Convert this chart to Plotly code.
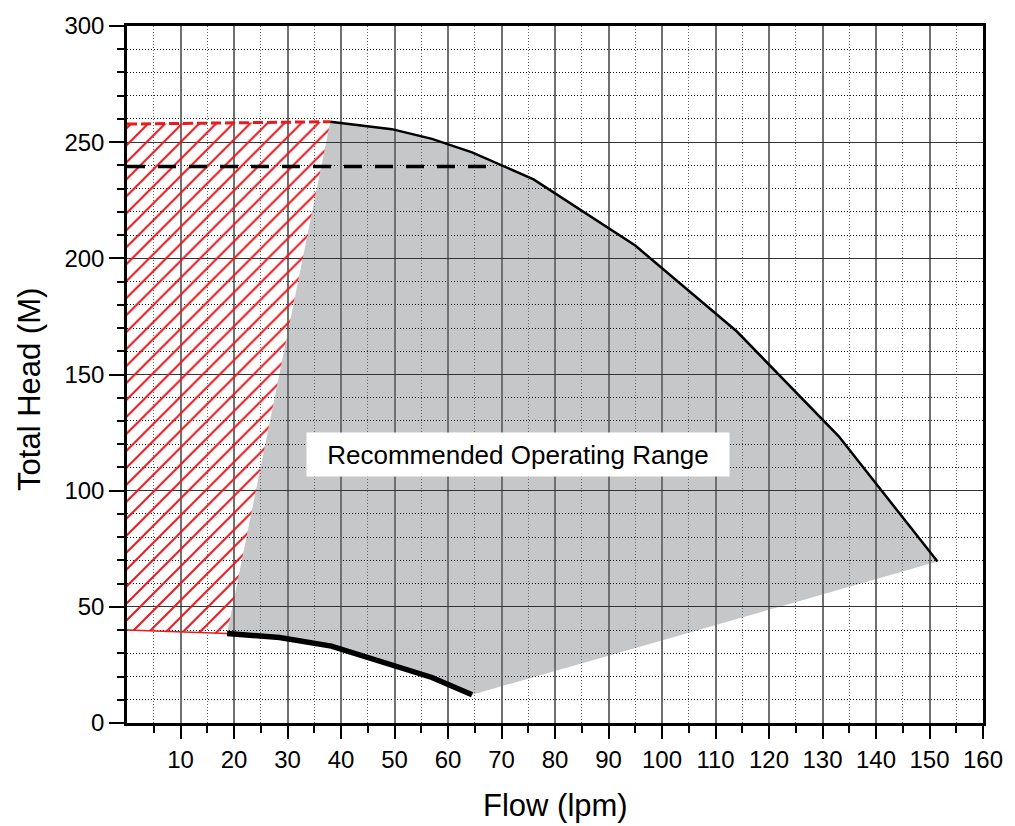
import plotly.graph_objects as go

# ---- data ----
pump_x = [38, 49.5, 57, 64.5, 76, 95, 114, 133, 151.5]
pump_y = [258.8, 255.6, 251.4, 245.6, 234, 205.5, 168.5, 123.5, 69.5]

low_x = [18.7, 28.5, 38.2, 57, 64.5]
low_y = [38.5, 36.8, 33.1, 19.6, 12.2]

hatch_x = [0, 0, 38, 18.7, 0]
hatch_y = [40, 257.8, 258.8, 38.5, 40]

hatch_top_x = [0, 38]
hatch_top_y = [257.8, 258.8]
hatch_bot_x = [0, 18.7]
hatch_bot_y = [40, 38.5]

dash_x = [0, 67.5]
dash_y = [239.5, 239.5]

label_text = "Recommended Operating Range"
label_pos = (73.0, 115.7)

x_major = list(range(10, 161, 10))
x_minor = list(range(5, 160, 10))
y_major = list(range(0, 301, 50))
y_minor = [v for v in range(10, 300, 10) if v % 50 != 0]

FONT = "Liberation Sans, Arial, Helvetica, sans-serif"
RED = "#e8191f"
GRAY = "#c6c7c9"

# gray region path (pump curve -> lower-right corner -> lower curve reversed)
poly_x = pump_x + low_x[::-1]
poly_y = pump_y + low_y[::-1]
path = "M " + " L ".join(f"{x},{y}" for x, y in zip(poly_x, poly_y)) + " Z"

fig = go.Figure()

# hatched (red) region
fig.add_trace(go.Scatter(
    x=hatch_x, y=hatch_y, mode="lines", fill="toself",
    fillcolor="rgba(0,0,0,0)",
    fillpattern=dict(shape="/", fgcolor=RED, fgopacity=1,
                     bgcolor="rgba(0,0,0,0)", fillmode="replace",
                     size=12, solidity=0.17),
    line=dict(width=0), hoverinfo="skip", showlegend=False))
fig.add_trace(go.Scatter(x=hatch_top_x, y=hatch_top_y, mode="lines",
                         line=dict(color=RED, width=3, dash="10px,4px"),
                         hoverinfo="skip", showlegend=False))
fig.add_trace(go.Scatter(x=hatch_bot_x, y=hatch_bot_y, mode="lines",
                         line=dict(color=RED, width=1.5),
                         hoverinfo="skip", showlegend=False))

# dashed black line
fig.add_trace(go.Scatter(x=dash_x, y=dash_y, mode="lines",
                         line=dict(color="black", width=3.5, dash="18px,13px"),
                         hoverinfo="skip", showlegend=False))

# pump curve
fig.add_trace(go.Scatter(x=pump_x, y=pump_y, mode="lines",
                         line=dict(color="black", width=2.5),
                         showlegend=False))
# lower thick curve
fig.add_trace(go.Scatter(x=low_x, y=low_y, mode="lines",
                         line=dict(color="black", width=5.5),
                         showlegend=False))

fig.add_shape(type="path", path=path, xref="x", yref="y",
              fillcolor=GRAY, line=dict(width=0), layer="below")

fig.add_annotation(x=label_pos[0], y=label_pos[1], xref="x", yref="y",
                   text=label_text, showarrow=False,
                   font=dict(family=FONT, size=26, color="black"),
                   bgcolor="white", width=412, height=33, borderpad=5,
                   xanchor="center", yanchor="middle")

# axis titles
fig.add_annotation(x=0.5, y=-0.1184, xref="paper", yref="paper",
                   text="Flow (lpm)", showarrow=False,
                   font=dict(family=FONT, size=31, color="black"),
                   xanchor="center", yanchor="middle")
fig.add_annotation(x=-0.1147, y=0.479, xref="paper", yref="paper",
                   text="Total Head (M)", showarrow=False, textangle=-90,
                   font=dict(family=FONT, size=31, color="black"),
                   xanchor="center", yanchor="middle")

fig.update_layout(
    width=1015, height=826,
    margin=dict(l=127, r=24, t=19, b=103),
    paper_bgcolor="white", plot_bgcolor="white",
    font=dict(family=FONT, size=24, color="black"),
    showlegend=False,
)
fig.update_xaxes(
    range=[0, 160], tickmode="array", tickvals=x_major,
    ticktext=[str(v) for v in x_major],
    ticks="outside", ticklen=13, tickwidth=2, tickcolor="black",
    showline=True, linewidth=2.5, linecolor="black", mirror=True,
    showgrid=True, gridcolor="#707070", gridwidth=2, zeroline=False,
    tickfont=dict(family=FONT, size=24, color="black"),
    minor=dict(tickmode="array", tickvals=x_minor, ticks="outside", ticklen=7,
               tickwidth=2, tickcolor="black", showgrid=True,
               gridcolor="#666666", gridwidth=1, griddash="1px,2px"),
)
fig.update_yaxes(
    range=[0, 300], tickmode="array", tickvals=y_major,
    ticktext=[str(v) for v in y_major],
    ticks="outside", ticklen=15, tickwidth=2, tickcolor="black",
    showline=True, linewidth=2.5, linecolor="black", mirror=True,
    showgrid=True, gridcolor="#333333", gridwidth=1, zeroline=False,
    tickfont=dict(family=FONT, size=24, color="black"),
    minor=dict(tickmode="array", tickvals=y_minor, ticks="outside", ticklen=7,
               tickwidth=2, tickcolor="black", showgrid=True,
               gridcolor="#111111", gridwidth=1, griddash="1px,2px"),
)

fig.write_html("out.html")
